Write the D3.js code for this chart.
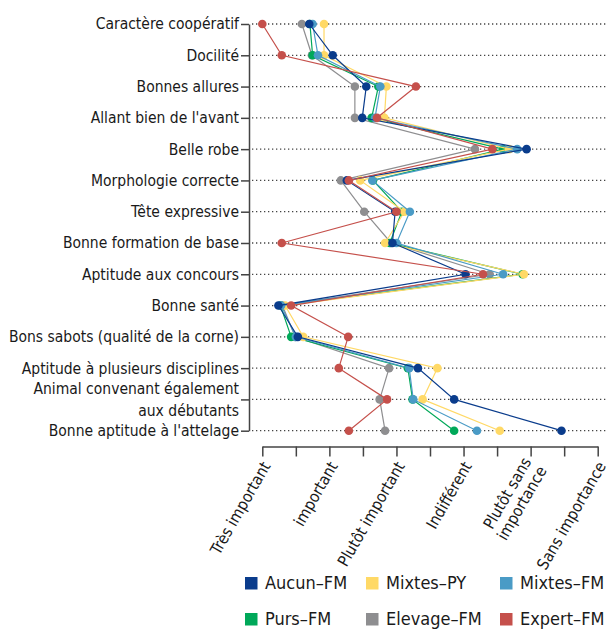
<!DOCTYPE html>
<html><head><meta charset="utf-8">
<script src="https://cdn.jsdelivr.net/npm/d3@7"></script>
<style>
html,body{margin:0;padding:0;background:#fff;}
svg text{font-family:"DejaVu Sans Condensed","Liberation Sans Narrow","Liberation Sans",sans-serif;fill:#1a1a1a;}
</style></head>
<body>
<svg id="c" width="609" height="630"></svg>
<script>
const categories = [
  "Caractère coopératif","Docilité","Bonnes allures","Allant bien de l'avant","Belle robe",
  "Morphologie correcte","Tête expressive","Bonne formation de base","Aptitude aux concours",
  "Bonne santé","Bons sabots (qualité de la corne)","Aptitude à plusieurs disciplines",
  "Animal convenant également\naux débutants","Bonne aptitude à l'attelage"
];
const seriesNames = ["Aucun–FM","Mixtes–PY","Mixtes–FM","Purs–FM","Elevage–FM","Expert–FM"];
const seriesColors = ["#0a3c8c","#ffd966","#4a9bc6","#00a859","#8e8e90","#c5504b"];
const aucunFM   = [1.70,2.05,2.55,2.49,4.94,2.26,2.98,2.94,4.03,1.24,1.53,3.32,3.86,5.46];
const mixtesPY  = [1.92,1.92,2.85,2.82,4.68,2.46,3.12,2.83,4.90,1.34,1.61,3.61,3.39,4.54];
const mixtesFM  = [1.75,1.83,2.76,2.68,4.80,2.64,3.20,3.00,4.59,1.28,1.50,3.19,3.25,4.20];
const pursFM    = [1.71,1.75,2.73,2.63,4.59,2.65,3.08,2.90,4.88,1.27,1.43,3.17,3.24,3.86];
const elevageFM = [1.59,1.74,2.38,2.38,4.17,2.17,2.52,2.92,4.39,1.30,1.49,2.89,2.75,2.83];
const expertFM  = [1.00,1.29,3.29,2.71,4.43,2.29,3.00,1.29,4.29,1.43,2.28,2.14,2.86,2.29];
const xTickValues = [1,1.5,2,2.5,3,3.5,4,4.5,5,5.5,6];
const xLabels = [[1,"Très important"],[2,"important"],[3,"Plutôt important"],[4,"Indifférent"],[5,"Plutôt sans\nimportance"],[6,"Sans importance"]];

const seriesValues = [aucunFM,mixtesPY,mixtesFM,pursFM,elevageFM,expertFM];
const drawOrder = [4,3,1,2,0,5];

const svg = d3.select("#c");
const x = d3.scaleLinear().domain([1,6]).range([262.3,597.7]);
const y = d3.scalePoint().domain(categories).range([24,430.7]);
const axisX = 249;

// dotted grid
svg.append("g").selectAll("line").data(categories).join("line")
  .attr("x1",axisX+3).attr("x2",606)
  .attr("y1",d=>y(d)).attr("y2",d=>y(d))
  .attr("stroke","#444").attr("stroke-width",1.3).attr("stroke-dasharray","1.3 2.7");

// y axis
const yAxis = svg.append("g").attr("transform",`translate(${axisX},0)`)
  .call(d3.axisLeft(y).tickSize(8).tickSizeOuter(0).tickFormat(""));
yAxis.select(".domain").attr("stroke","#444").attr("stroke-width",1.5);
yAxis.selectAll(".tick line").attr("stroke","#444").attr("stroke-width",1.5);

// category labels
categories.forEach(c=>{
  const lines = c.split("\n");
  const t = svg.append("text").attr("text-anchor","end").attr("font-size",15.5)
    .attr("transform",`translate(239,${y(c)})`);
  lines.forEach((l,i)=>{
    t.append("tspan").attr("x",0)
     .attr("dy", i===0 ? (0.35 - (lines.length-1)*0.7)+"em" : "1.42em").text(l);
  });
});

// x axis
const xAxis = svg.append("g").attr("transform","translate(0,446.5)")
  .call(d3.axisBottom(x).tickValues(xTickValues).tickSize(10).tickSizeOuter(0).tickFormat(""));
xAxis.select(".domain").attr("stroke","#444").attr("stroke-width",1.5);
xAxis.selectAll(".tick line").attr("stroke","#444").attr("stroke-width",1.5);

xLabels.forEach(([v,lab])=>{
  const lines = lab.split("\n");
  const t = svg.append("text").attr("text-anchor","end").attr("font-size",16)
    .attr("transform",`translate(${x(v)+4},463) rotate(-60)`);
  lines.forEach((l,i)=>{
    t.append("tspan").attr("x",0)
     .attr("dy", i===0 ? (0.35 - (lines.length-1)*0.55)+"em" : "1.1em").text(l);
  });
});

// series
const line = d3.line().x(d=>x(d[0])).y(d=>y(d[1]));
drawOrder.forEach(si=>{
  const pts = seriesValues[si].map((v,i)=>[v,categories[i]]);
  const g = svg.append("g");
  g.append("path").attr("d",line(pts)).attr("fill","none")
   .attr("stroke",seriesColors[si]).attr("stroke-width",1.2);
  g.selectAll("circle").data(pts).join("circle")
   .attr("cx",d=>x(d[0])).attr("cy",d=>y(d[1])).attr("r",4.3)
   .attr("fill",seriesColors[si]);
});

// legend
const legCols = [245,366,500];
const legRows = [583,619];
seriesNames.forEach((n,i)=>{
  const cx = legCols[i%3], cy = legRows[Math.floor(i/3)];
  svg.append("rect").attr("x",cx).attr("y",cy-6).attr("width",12.5).attr("height",12.5)
    .attr("fill",seriesColors[i]);
  svg.append("text").attr("x",cx+20).attr("y",cy).attr("dy","0.35em")
    .attr("font-size",18).text(n);
});
</script>
</body></html>
